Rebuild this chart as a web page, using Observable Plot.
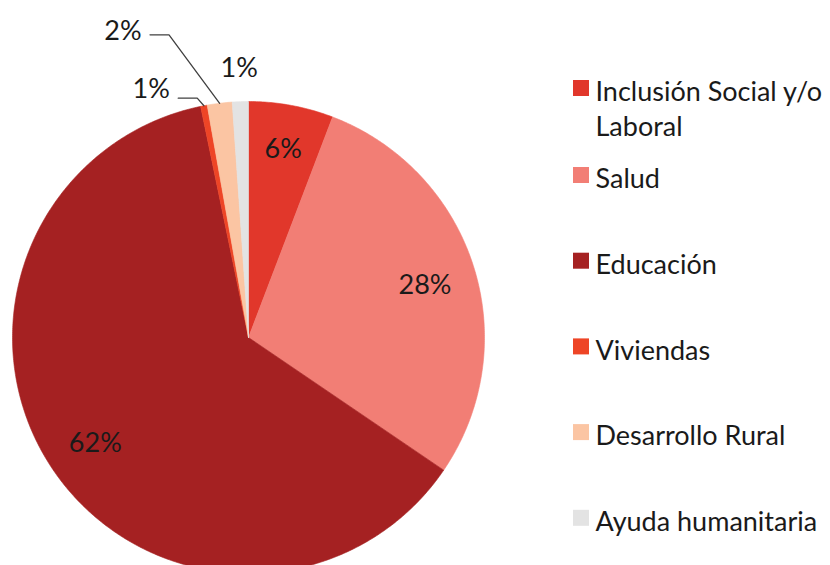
<!DOCTYPE html>
<html>
<head>
<meta charset="utf-8">
<script src="https://cdn.jsdelivr.net/npm/d3@7"></script>
<script src="https://cdn.jsdelivr.net/npm/@observablehq/plot@0.6"></script>
<style>
  html, body { margin: 0; padding: 0; background: #fff; }
  #chart { width: 830px; height: 565px; overflow: hidden; }
</style>
</head>
<body>
<div id="chart"></div>
<script>
// ---- data ----
const categories = ["Inclusión Social y/o Laboral", "Salud", "Educación", "Viviendas", "Desarrollo Rural", "Ayuda humanitaria"];
const legendLabels = ["Inclusión Social y/o\nLaboral", "Salud", "Educación", "Viviendas", "Desarrollo Rural", "Ayuda humanitaria"];
const shares = [5.8, 28.7, 62.25, 0.45, 1.7, 1.1];
const pctLabels = ["6%", "28%", "62%", "1%", "2%", "1%"];
const colors = ["#e1372b", "#f27e75", "#a52122", "#ee4526", "#fbc5a3", "#e3e3e3"];

// ---- layout ----
const W = 830, H = 565;
const cx = 248, cy = 337, R = 236;
// label placement: inside labels at ~0.8R; outside labels with angle shift (deg) and radius factor
const labelPlace = [
  {r: 0.81, shift: 0}, {r: 0.78, shift: 1}, {r: 0.79, shift: -1},
  {r: 1.13, shift: -10.5, leader: true, ldy: 9}, {r: 1.40, shift: -15.3, leader: true, ldy: 3}, {r: 1.14, shift: 0}
];

const arcs = d3.pie().sort(null).value(d => d)(shares);
const pt = (a, r) => [cx + r * Math.sin(a), cy - r * Math.cos(a)];

// slice polygons
const slicePts = [];
arcs.forEach((a, i) => {
  const cat = categories[i];
  slicePts.push({cat, x: cx, y: cy});
  const n = Math.max(4, Math.ceil((a.endAngle - a.startAngle) / (Math.PI / 360)));
  for (let k = 0; k <= n; k++) {
    const ang = a.startAngle + (a.endAngle - a.startAngle) * k / n;
    const [x, y] = pt(ang, R);
    slicePts.push({cat, x, y});
  }
  slicePts.push({cat, x: cx, y: cy});
});

// percentage labels
const labels = arcs.map((a, i) => {
  const mid = (a.startAngle + a.endAngle) / 2 + labelPlace[i].shift * Math.PI / 180;
  const [x, y] = pt(mid, R * labelPlace[i].r);
  return {cat: categories[i], text: pctLabels[i], x, y};
});

// leader lines
const leaderPts = [];
arcs.forEach((a, i) => {
  const lp = labelPlace[i];
  if (!lp.leader) return;
  const mid = (a.startAngle + a.endAngle) / 2;
  const [ex, ey] = pt(mid, R);
  const L = labels[i];
  leaderPts.push({cat: categories[i], x: ex, y: ey});
  leaderPts.push({cat: categories[i], x: L.x + 46, y: L.y + lp.ldy});
  leaderPts.push({cat: categories[i], x: L.x + 27, y: L.y + lp.ldy});
});

// legend
const legX = 573, sq = 16, textX = 595;
const legY = categories.map((c, i) => i === 0 ? 88 : 175 + (i - 1) * 85.7);
const legendRects = categories.map((c, i) => ({cat: c, x1: legX, x2: legX + sq, y1: legY[i] - sq / 2, y2: legY[i] + sq / 2}));
const legendLines = [];
legendLabels.forEach((lab, i) => lab.split("\n").forEach((line, j) => legendLines.push({text: line, x: textX, y: legY[i] + 4 + j * 35})));

const chart = Plot.plot({
  width: W, height: H,
  margin: 0,
  x: {domain: [0, W], range: [0, W], axis: null},
  y: {domain: [0, H], range: [0, H], axis: null},
  color: {domain: categories, range: colors},
  style: {fontFamily: "Lato, 'Open Sans', sans-serif", background: "#fff", overflow: "hidden"},
  marks: [
    Plot.line(slicePts, {x: "x", y: "y", z: "cat", fill: "cat", stroke: "cat", strokeWidth: 0.6, curve: "linear"}),
    Plot.line(leaderPts, {x: "x", y: "y", z: "cat", stroke: "#404040", strokeWidth: 1.3}),
    Plot.text(labels, {x: "x", y: "y", text: "text", fontSize: 27, fill: "#1a1a1a", textAnchor: "middle", lineAnchor: "middle"}),
    Plot.rect(legendRects, {x1: "x1", x2: "x2", y1: "y1", y2: "y2", fill: "cat"}),
    Plot.text(legendLines, {x: "x", y: "y", text: "text", fontSize: 27, fill: "#1a1a1a", textAnchor: "start", lineAnchor: "middle"})
  ]
});
document.getElementById("chart").appendChild(chart);
</script>
</body>
</html>
